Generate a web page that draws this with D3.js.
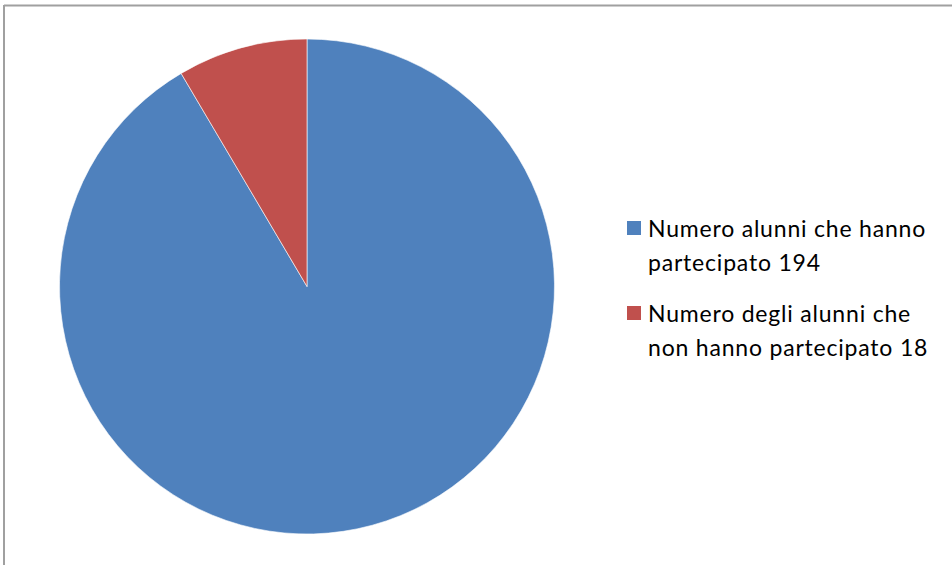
<!DOCTYPE html>
<html>
<head>
<meta charset="utf-8">
<script src="https://cdn.jsdelivr.net/npm/d3@7"></script>
<style>
  body { margin: 0; background: #fff; }
  svg { display: block; }
</style>
</head>
<body>
<div id="chart"></div>
<script>
var categories = ["Numero alunni che hanno partecipato 194", "Numero degli alunni che non hanno partecipato 18"];
var legendLines = [["Numero alunni che hanno", "partecipato 194"], ["Numero degli alunni che", "non hanno partecipato 18"]];
var values = [194, 18];
var colors = ["#4F81BD", "#C0504D"];

var width = 952, height = 565;
var cx = 307, cy = 286.5, radius = 247.5;

var svg = d3.select("#chart")
  .append("svg")
    .attr("width", width)
    .attr("height", height);

// chart frame (top and left edges visible)
svg.append("line")
  .attr("x1", 4).attr("y1", 5.5).attr("x2", width).attr("y2", 5.5)
  .attr("stroke", "#a0a0a0").attr("stroke-width", 2);
svg.append("line")
  .attr("x1", 4).attr("y1", 5).attr("x2", 4).attr("y2", height)
  .attr("stroke", "#a0a0a0").attr("stroke-width", 2);

var pie = d3.pie().sort(null).value(function(d) { return d; });
var arc = d3.arc().innerRadius(0).outerRadius(radius);

var g = svg.append("g")
  .attr("transform", "translate(" + cx + "," + cy + ")");

g.selectAll("path")
  .data(pie(values))
  .enter()
  .append("path")
    .attr("d", arc)
    .attr("fill", function(d, i) { return colors[i]; })
    .attr("stroke", "#ffffff")
    .attr("stroke-width", 0.6);

// legend
var legend = svg.append("g").attr("transform", "translate(627,221)");
var item = legend.selectAll("g")
  .data(categories)
  .enter()
  .append("g")
    .attr("transform", function(d, i) { return "translate(0," + (i * 85) + ")"; });

item.append("rect")
  .attr("width", 14).attr("height", 14)
  .attr("fill", function(d, i) { return colors[i]; });

item.append("text")
  .attr("x", 21)
  .attr("y", 16)
  .attr("font-family", "Lato, 'Open Sans', sans-serif")
  .attr("font-size", 23)
  .attr("letter-spacing", 0.8)
  .attr("fill", "#000")
  .selectAll("tspan")
  .data(function(d, i) { return legendLines[i]; })
  .enter()
  .append("tspan")
    .attr("x", 21)
    .attr("dy", function(d, j) { return j === 0 ? 0 : 34; })
    .text(function(d) { return d; });
</script>
</body>
</html>
